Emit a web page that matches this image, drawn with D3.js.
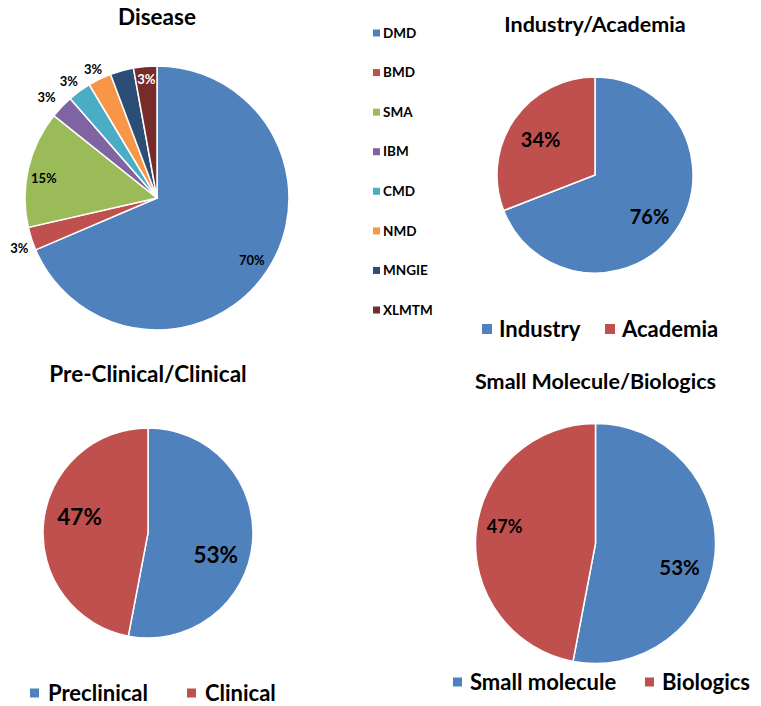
<!DOCTYPE html>
<html>
<head>
<meta charset="utf-8">
<title>Pies</title>
<script src="https://cdnjs.cloudflare.com/ajax/libs/d3/7.8.5/d3.min.js"></script>
<style>
body { margin: 0; background: #fff; }
text { font-family: Lato, "Open Sans", sans-serif; font-weight: bold; fill: #000; }
.slice { stroke: #fff; stroke-width: 1.5; }
</style>
</head>
<body>
<svg id="vis" width="761" height="706"></svg>
<script>
// data
var diseaseNames  = ["DMD", "BMD", "SMA", "IBM", "CMD", "NMD", "MNGIE", "XLMTM"];
var diseaseValues = [24, 1, 5, 1, 1, 1, 1, 1];
var diseaseLabels = ["70%", "3%", "15%", "3%", "3%", "3%", "", "3%"];

var industryNames  = ["Industry", "Academia"];
var industryValues = [76, 34];
var industryLabels = ["76%", "34%"];

var clinicalNames  = ["Preclinical", "Clinical"];
var clinicalValues = [53, 47];
var clinicalLabels = ["53%", "47%"];

var moleculeNames  = ["Small molecule", "Biologics"];
var moleculeValues = [53, 47];
var moleculeLabels = ["53%", "47%"];

var palette = ["#4F81BD", "#C0504D", "#9BBB59", "#8064A2", "#4BACC6", "#F79646", "#2C4D75", "#772C2A"];

var svg = d3.select("#vis");

function drawPie(opt) {
  var g = svg.append("g").attr("transform", `translate(${opt.cx},${opt.cy})`);
  var pie = d3.pie().sort(null).value(d => d)(opt.values);
  var arc = d3.arc().innerRadius(0).outerRadius(opt.r);
  var color = d3.scaleOrdinal().domain(opt.names).range(palette);

  g.selectAll(".slice")
    .data(pie)
    .enter().append("path")
      .attr("class", "slice")
      .attr("d", arc)
      .attr("fill", (d, i) => color(opt.names[i]));

  // labels sit on a radius fraction, nudged by a few degrees like the original
  g.selectAll(".lbl")
    .data(pie)
    .enter().append("text")
      .attr("class", "lbl")
      .attr("transform", function (d, i) {
        var k = opt.labelR[i];
        var a = (d.startAngle + d.endAngle) / 2 + (opt.labelDA ? opt.labelDA[i] : 0) * Math.PI / 180;
        return `translate(${Math.sin(a) * opt.r * k},${-Math.cos(a) * opt.r * k})`;
      })
      .attr("text-anchor", "middle")
      .attr("dy", "0.35em")
      .style("font-size", (d, i) => opt.labelSize[i] + "px")
      .style("fill", (d, i) => opt.labelFill ? opt.labelFill[i] : "#000")
      .text((d, i) => opt.labels[i]);

  svg.append("text")
    .attr("x", opt.cx)
    .attr("y", opt.titleY)
    .attr("text-anchor", "middle")
    .style("font-size", opt.titleSize + "px")
    .text(opt.title);
}

function drawLegendRow(names, xs, y, size, box, gap) {
  var color = d3.scaleOrdinal().domain(names).range(palette);
  names.forEach(function (n, i) {
    svg.append("rect")
      .attr("x", xs[i]).attr("y", y - box / 2)
      .attr("width", box).attr("height", box)
      .attr("fill", color(n));
    svg.append("text")
      .attr("x", xs[i] + box + gap).attr("y", y)
      .attr("dy", "0.35em")
      .style("font-size", size + "px")
      .text(n);
  });
}

// Disease
drawPie({
  cx: 157, cy: 198, r: 132,
  values: diseaseValues, names: diseaseNames, labels: diseaseLabels,
  labelR: [0.86, 1.11, 0.87, 1.13, 1.11, 1.09, 1.1, 0.9],
  labelDA: [0, -2, -3, -1.5, -1, -0.7, 0, 0],
  labelSize: [13, 13, 13, 13, 13, 13, 13, 13],
  labelFill: ["#000", "#000", "#000", "#000", "#000", "#000", "#000", "#fff"],
  title: "Disease", titleY: 25, titleSize: 22.5
});

// disease legend (vertical)
var dColor = d3.scaleOrdinal().domain(diseaseNames).range(palette);
var legY = d3.scalePoint().domain(diseaseNames).range([33, 310]);
diseaseNames.forEach(function (n) {
  svg.append("rect")
    .attr("x", 373).attr("y", legY(n) - 3.5)
    .attr("width", 7).attr("height", 7)
    .attr("fill", dColor(n));
  svg.append("text")
    .attr("x", 383).attr("y", legY(n))
    .attr("dy", "0.35em")
    .style("font-size", "13.5px")
    .text(n);
});

// Industry/Academia
drawPie({
  cx: 595, cy: 175, r: 98,
  values: industryValues, names: industryNames, labels: industryLabels,
  labelR: [0.70, 0.66],
  labelDA: [3, -1.5],
  labelSize: [20, 20],
  title: "Industry/Academia", titleY: 32, titleSize: 21.5
});
drawLegendRow(industryNames, [482, 605], 329, 22, 10, 7);

// Pre-Clinical/Clinical
drawPie({
  cx: 148, cy: 533, r: 105,
  values: clinicalValues, names: clinicalNames, labels: clinicalLabels,
  labelR: [0.68, 0.67],
  labelDA: [13, 8],
  labelSize: [22.5, 22.5],
  title: "Pre-Clinical/Clinical", titleY: 382, titleSize: 22.5
});
drawLegendRow(clinicalNames, [30, 187], 693, 22, 9, 9);

// Small Molecule/Biologics
drawPie({
  cx: 595.5, cy: 543.5, r: 120,
  values: moleculeValues, names: moleculeNames, labels: moleculeLabels,
  labelR: [0.73, 0.77],
  labelDA: [11, 5],
  labelSize: [20.5, 18],
  title: "Small Molecule/Biologics", titleY: 389, titleSize: 21.5
});
drawLegendRow(moleculeNames, [453, 645], 682, 22, 9, 8);
</script>
</body>
</html>
